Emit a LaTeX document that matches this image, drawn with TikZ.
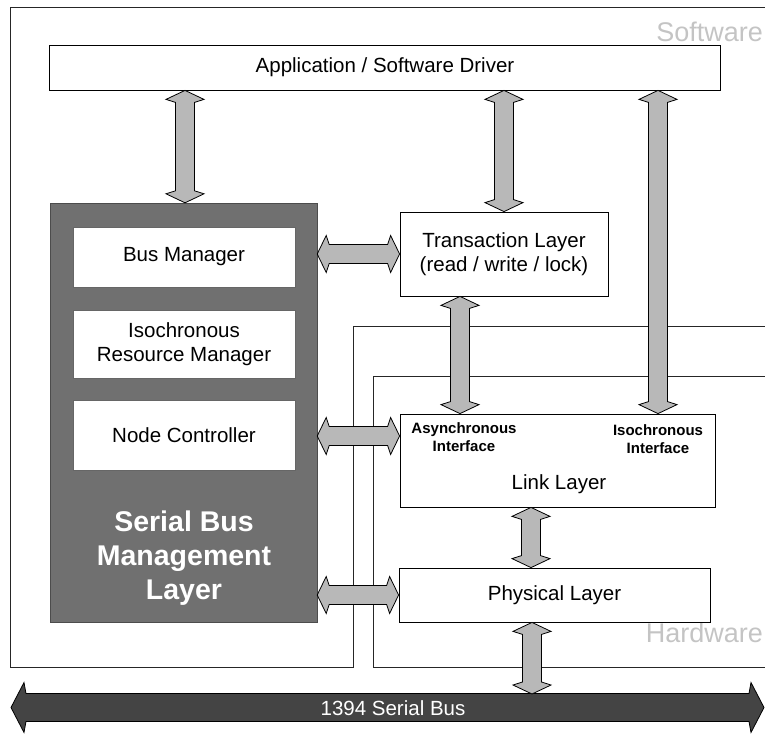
\documentclass[tikz,border=0pt]{standalone}
\usepackage{fontspec}
\setmainfont{Liberation Sans}
\usetikzlibrary{calc}

\definecolor{layergray}{HTML}{707070}
\definecolor{pipegray}{HTML}{B8B8B8}
\definecolor{busgray}{HTML}{444444}
\definecolor{zonegray}{HTML}{C4C4C4}

\tikzset{
  box/.style={draw=black, line width=0.8pt, fill=white, inner sep=0pt, align=center,
              font=\fontsize{20.5}{24}\selectfont},
  subbox/.style={box, draw=black!60, line width=0.5pt},
  pipe/.style={draw=black, line width=0.8pt, fill=pipegray, line join=miter},
  frame/.style={draw=black!85, line width=0.8pt},
  zone/.style={text=zonegray, font=\fontsize{27}{31}\selectfont, anchor=east, inner sep=0pt},
  iface/.style={font=\bfseries\fontsize{15}{18.5}\selectfont, align=center, inner sep=0pt},
}

% vertical double block arrow between an upper and a lower coordinate
\newcommand\vpipe[2]{%
  \path[pipe] let \p1=(#1), \p2=(#2) in
    (\x1,\y1) -- (\x1+19pt,\y1-9pt) -- (\x1+9.5pt,\y1-12pt) -- (\x1+9.5pt,\y2+12pt)
    -- (\x1+19pt,\y2+9pt) -- (\x1,\y2) -- (\x1-19pt,\y2+9pt) -- (\x1-9.5pt,\y2+12pt)
    -- (\x1-9.5pt,\y1-12pt) -- (\x1-19pt,\y1-9pt) -- cycle;}

% horizontal double block arrow between a left and a right coordinate
\newcommand\hpipe[2]{%
  \path[pipe] let \p1=(#1), \p2=(#2) in
    (\x1,\y1) -- (\x1+9pt,\y1+18.5pt) -- (\x1+12pt,\y1+9.5pt) -- (\x2-12pt,\y1+9.5pt)
    -- (\x2-9pt,\y1+18.5pt) -- (\x2,\y1) -- (\x2-9pt,\y1-18.5pt) -- (\x2-12pt,\y1-9.5pt)
    -- (\x1+12pt,\y1-9.5pt) -- (\x1+9pt,\y1-18.5pt) -- cycle;}

\begin{document}
\begin{tikzpicture}[x=1pt,y=-1pt]
\useasboundingbox (0,0) rectangle (765,733);

% software and hardware zones
\draw[frame] (765,7) -- (10,7) -- (10,667) -- (353,667) -- (353,326) -- (765,326);
\draw[frame] (765,376) -- (373,376) -- (373,667) -- (765,667);
\node[zone] (sw) at (763,32) {Software};
\node[zone] (hw) at (763,633) {Hardware};

% application
\node[box, minimum width=671, minimum height=45] (app) at (385,67.5) {Application / Software Driver};

% serial bus management layer
\node[draw=black!70, fill=layergray, minimum width=267, minimum height=419, inner sep=0pt] (sbm) at (183.5,412.5) {};
\node[subbox, minimum width=222, minimum height=60] (bm) at (184,257) {Bus Manager};
\node[subbox, minimum width=222, minimum height=68] (irm) at (184,344) {Isochronous\\Resource Manager};
\node[subbox, minimum width=222, minimum height=70] (nc) at (184,435) {Node Controller};
\node[text=white, font=\bfseries\fontsize{28.5}{34}\selectfont, align=center] (sbmtitle) at (184,558) {Serial Bus\\Management\\Layer};

% protocol stack
\node[box, minimum width=208, minimum height=84] (trans) at (504,254) {Transaction Layer\\(read / write / lock)};
\node[box, minimum width=315, minimum height=93] (link) at (557.5,460.5) {};
\node[iface] (async) at (464,437) {Asynchronous\\Interface};
\node[iface] (iso) at (658,439) {Isochronous\\Interface};
\node[font=\fontsize{20.5}{24}\selectfont, inner sep=0pt] (linkname) at (559,484) {Link Layer};
\node[box, minimum width=311, minimum height=54] (phys) at (554.5,595) {Physical Layer};

% serial bus
\coordinate (busL) at (11,707.5);
\coordinate (busR) at (764,707.5);
\path[draw=black, fill=busgray, line width=0.8pt] let \p1=(busL), \p2=(busR) in
  (\x1,\y1) -- (\x1+13pt,\y1+25pt) -- (\x1+15pt,\y1+14pt) -- (\x2-15pt,\y1+14pt)
  -- (\x2-13pt,\y1+25pt) -- (\x2,\y1) -- (\x2-13pt,\y1-25pt) -- (\x2-15pt,\y1-14pt)
  -- (\x1+15pt,\y1-14pt) -- (\x1+13pt,\y1-25pt) -- cycle;
\node[text=white, font=\fontsize{20.5}{24}\selectfont] (busname) at (393,708) {1394 Serial Bus};
\coordinate (bustop) at (532,694);

% vertical connectors
\coordinate (v1a) at (185,0 |- app.south);   \coordinate (v1b) at (185,0 |- sbm.north);
\coordinate (v2a) at (504,0 |- app.south);   \coordinate (v2b) at (504,0 |- trans.north);
\coordinate (v3a) at (658,0 |- app.south);   \coordinate (v3b) at (658,0 |- link.north);
\coordinate (v4a) at (460,0 |- trans.south); \coordinate (v4b) at (460,0 |- link.north);
\coordinate (v5a) at (531,0 |- link.south);  \coordinate (v5b) at (531,0 |- phys.north);
\coordinate (v6a) at (532,0 |- phys.south);
\vpipe{v1a}{v1b}
\vpipe{v2a}{v2b}
\vpipe{v3a}{v3b}
\vpipe{v4a}{v4b}
\vpipe{v5a}{v5b}
\vpipe{v6a}{bustop}

% horizontal connectors
\coordinate (h1a) at (sbm.east |- 0,254); \coordinate (h1b) at (trans.west |- 0,254);
\coordinate (h2a) at (sbm.east |- 0,436); \coordinate (h2b) at (link.west |- 0,436);
\coordinate (h3a) at (sbm.east |- 0,595); \coordinate (h3b) at (phys.west |- 0,595);
\hpipe{h1a}{h1b}
\hpipe{h2a}{h2b}
\hpipe{h3a}{h3b}
\end{tikzpicture}
\end{document}
